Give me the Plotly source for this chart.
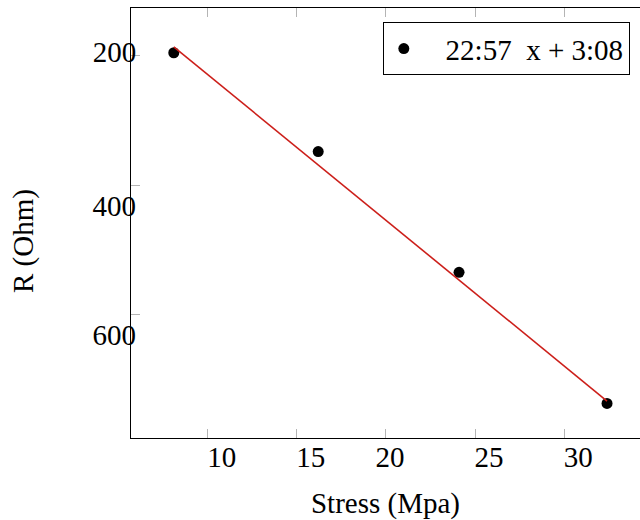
import plotly.graph_objects as go

# Measured resistance against applied stress
stress = [8.1, 16.2, 24.1, 32.4]
resistance = [195, 348, 535, 738]

# Linear fit reported in the legend
slope = 22.57
intercept = 3.08
fit_label = "\u00a0\u00a0\u00a022:57\u00a0\u00a0x + 3:08"

x_ticks = [10, 15, 20, 25, 30]
y_ticks = [200, 400, 600]

FONT = "Liberation Serif"
TICK_GREY = "#b4b4b4"

fit_x = [min(stress), max(stress)]
fit_y = [slope * v + intercept for v in fit_x]

x_range = [5.7, 34.25]
y_range = [791.6, 125.7]

fig = go.Figure()
# fit line lives on the overlay axes (same ranges) so their labels render
fig.add_trace(go.Scatter(
    x=fit_x, y=fit_y, mode="lines",
    line=dict(color="#cc1f1a", width=1.6),
    showlegend=False, hoverinfo="skip",
    xaxis="x2", yaxis="y2",
))
fig.add_trace(go.Scatter(
    x=stress, y=resistance, mode="markers",
    marker=dict(color="black", size=11),
    name=fit_label,
))

fig.update_layout(
    width=640, height=520,
    margin=dict(l=131, r=0, t=8, b=82),
    paper_bgcolor="white", plot_bgcolor="white",
    font=dict(family=FONT, size=29, color="black"),
    showlegend=True,
    legend=dict(
        x=0.980, y=0.967, xanchor="right", yanchor="top",
        bordercolor="black", borderwidth=1, bgcolor="white",
        font=dict(family=FONT, size=29, color="black"),
    ),
    xaxis=dict(
        range=x_range, tickvals=x_ticks,
        ticktext=["10", "15", "", "25", "30"],
        ticks="inside", ticklen=9, tickwidth=1, tickcolor=TICK_GREY,
        showline=True, linecolor="black", linewidth=1, mirror="ticks",
        showgrid=False, zeroline=False,
        ticklabelshift=14, ticklabelstandoff=-7,
        title=dict(text="Stress (Mpa)", font=dict(family=FONT, size=29), standoff=21),
    ),
    xaxis2=dict(
        range=x_range, overlaying="x", anchor="y2", side="bottom",
        tickvals=[20], ticktext=["20"], ticks="",
        showline=False, showgrid=False, zeroline=False,
        ticklabelshift=4, ticklabelstandoff=-1,
    ),
    yaxis=dict(
        range=y_range, tickvals=y_ticks,
        ticktext=["200", "", ""],
        ticks="inside", ticklen=9, tickwidth=1, tickcolor=TICK_GREY,
        showline=True, linecolor="black", linewidth=1, mirror=False,
        showgrid=False, zeroline=False,
        ticklabelstandoff=-12,
        ticklabelshift=4,
    ),
    yaxis2=dict(
        range=y_range, overlaying="y", anchor="x2", side="left",
        tickvals=[400, 600], ticktext=["400", "600"], ticks="",
        showline=False, showgrid=False, zeroline=False,
        ticklabelstandoff=-6,
        ticklabelshift=-21,
    ),
    annotations=[dict(
        text="R (Ohm)", textangle=-90, showarrow=False,
        xref="paper", yref="paper", x=(23 - 131) / 509, y=(438 - 241) / 430,
        xanchor="center", yanchor="middle",
        font=dict(family=FONT, size=29, color="black"),
    )],
)

fig.write_html("out.html")
